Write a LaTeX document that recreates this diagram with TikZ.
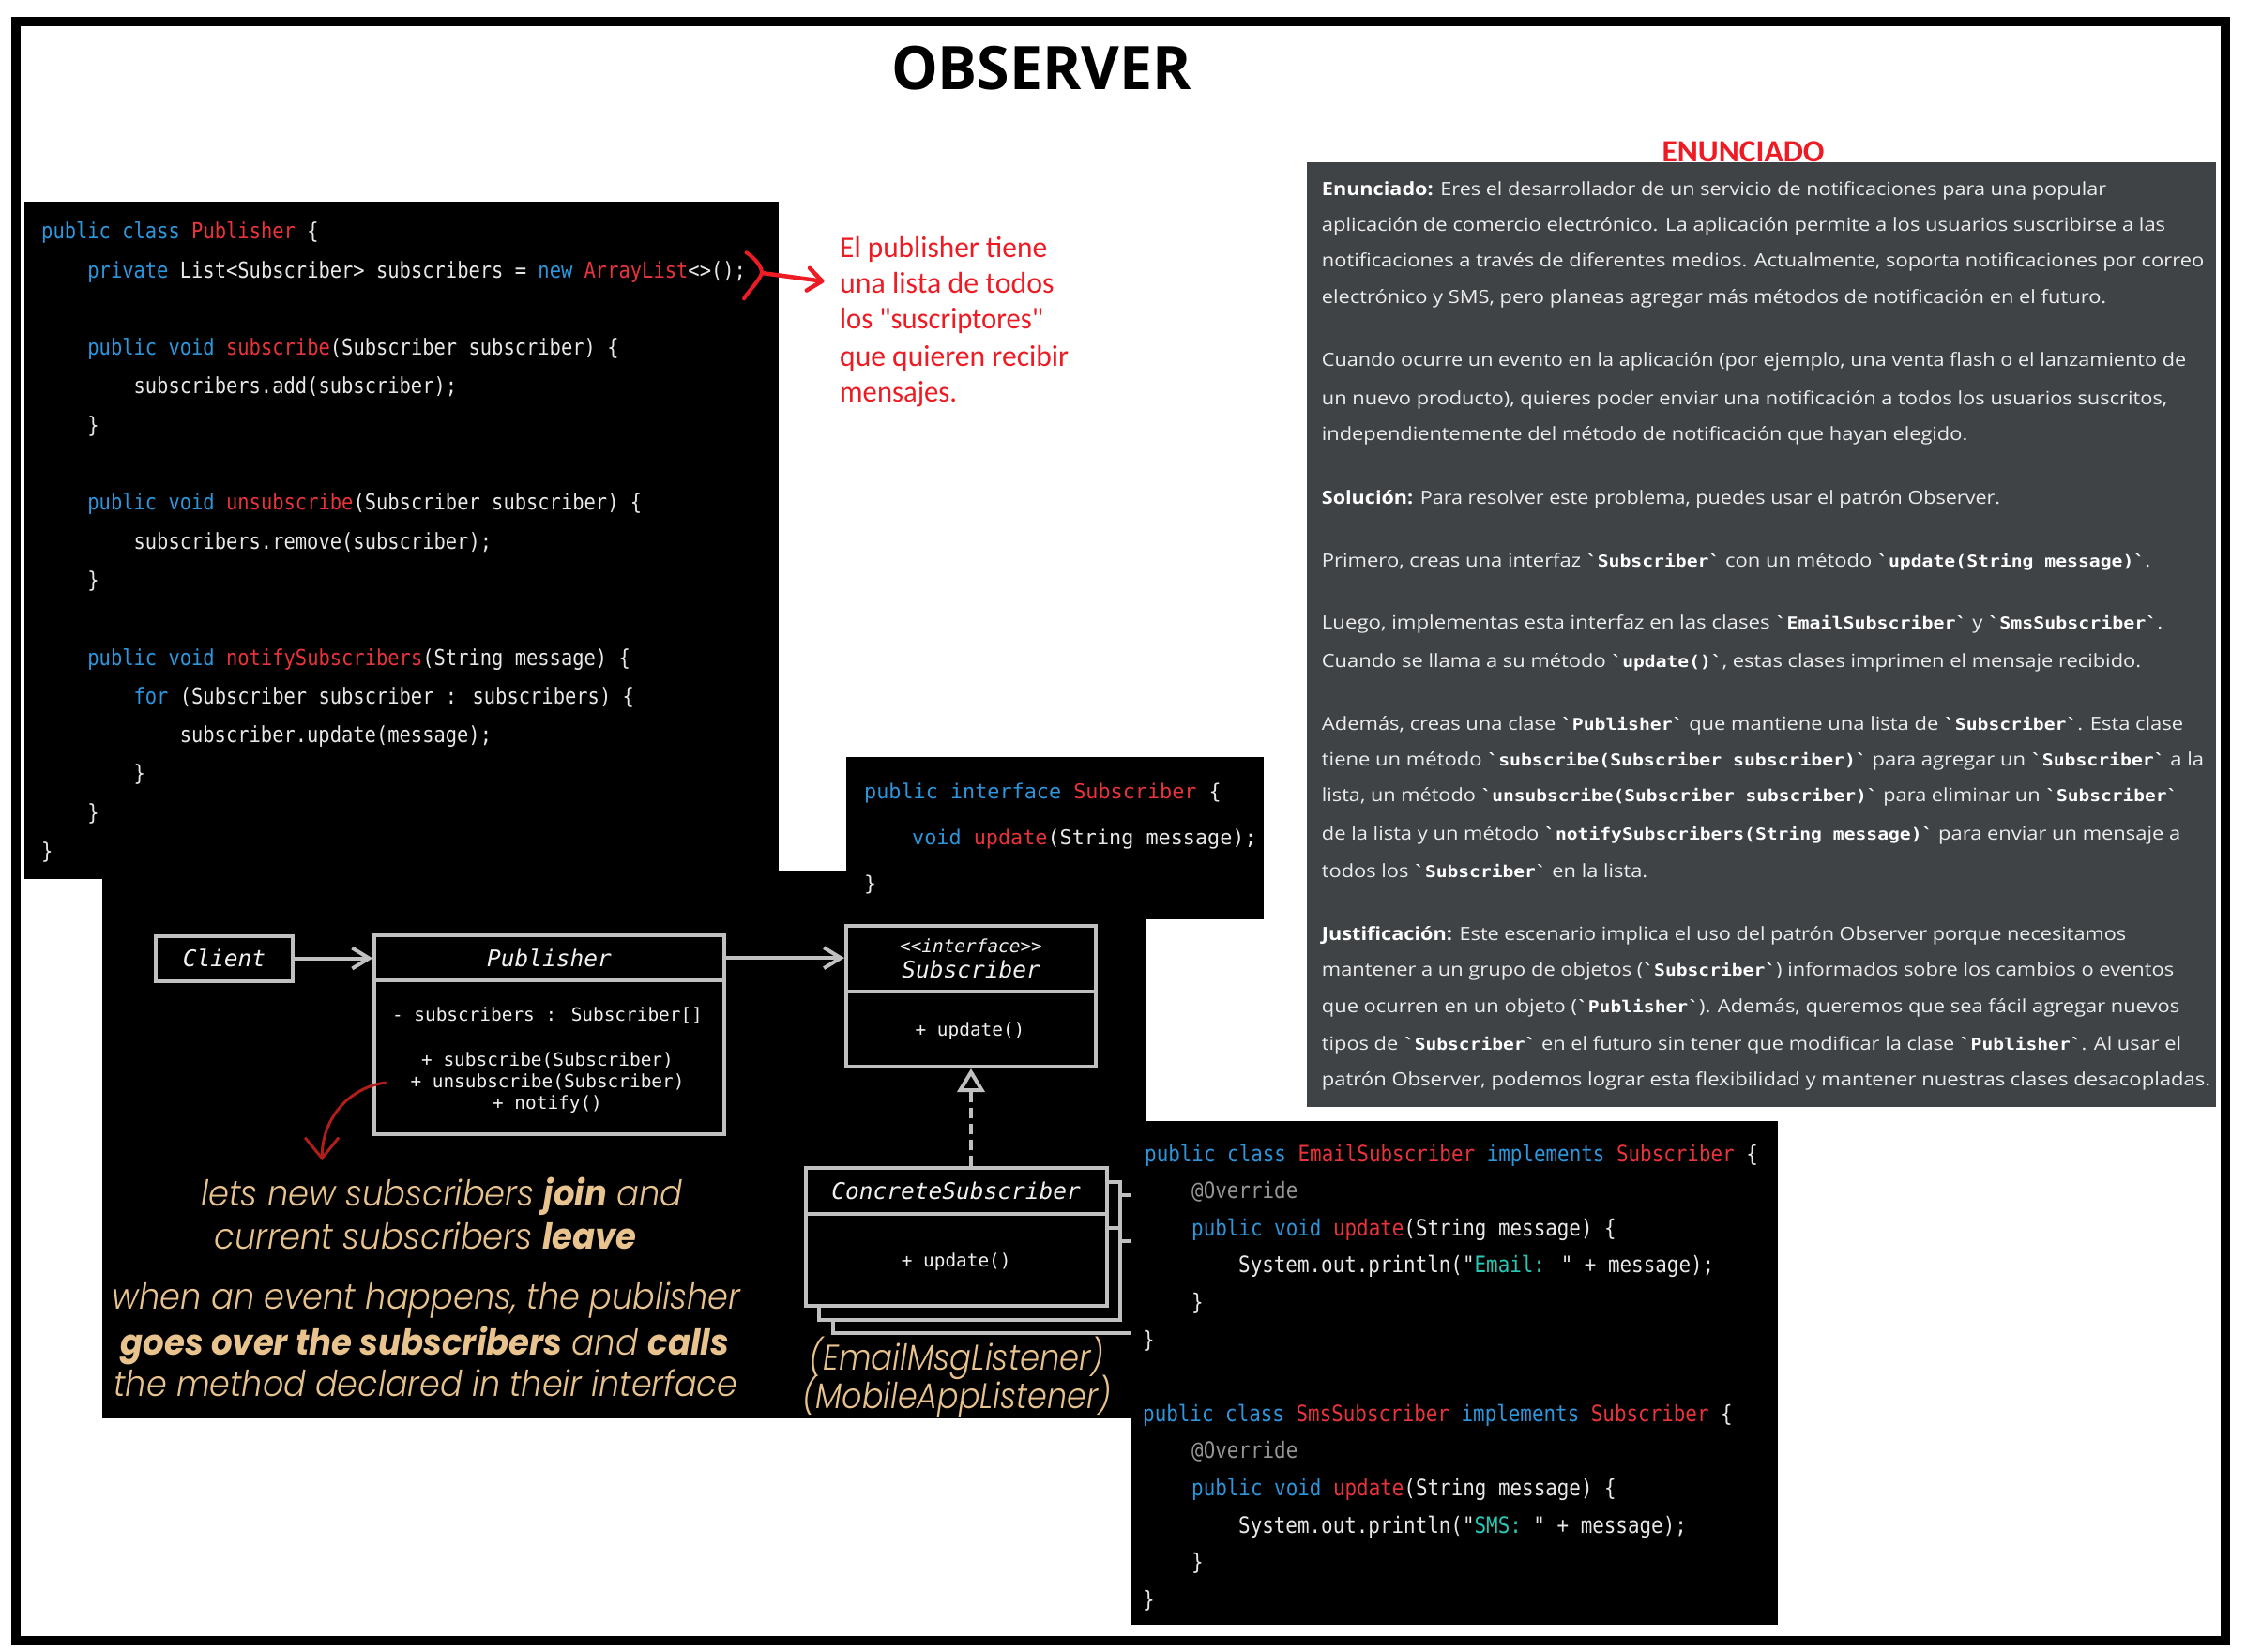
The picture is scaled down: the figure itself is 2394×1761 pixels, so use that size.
\documentclass[tikz,border=0pt]{standalone}
\usepackage{fontspec}
\usepackage{graphicx}
\usetikzlibrary{arrows.meta}
\newfontfamily\titlefont{Open Sans}[Ligatures=TeXOff]
\newfontfamily\carl{Carlito}[Ligatures=TeXOff]
\newfontfamily\notos{Open Sans}[Ligatures=TeXOff]
\newfontfamily\monoA{DejaVu Sans Mono}[FakeStretch=0.87,Ligatures=TeXOff]
\newfontfamily\monoB{DejaVu Sans Mono}[Ligatures=TeXOff]
\newfontfamily\pop{Poppins Light}[ItalicFont={Poppins Light Italic},BoldItalicFont={Poppins Bold Italic},Ligatures=TeXOff]
\definecolor{kwblue}{RGB}{45,150,220}
\definecolor{nmred}{RGB}{232,52,58}
\definecolor{codew}{RGB}{232,232,232}
\definecolor{strteal}{RGB}{40,200,180}
\definecolor{anngray}{RGB}{150,150,150}
\definecolor{umlgray}{RGB}{192,192,192}
\definecolor{umltext}{RGB}{240,240,240}
\definecolor{beige}{RGB}{233,195,142}
\definecolor{notered}{RGB}{237,28,36}
\definecolor{darkred}{RGB}{175,30,25}
\definecolor{panelgray}{RGB}{63,67,70}
\definecolor{paneltext}{RGB}{236,236,236}
\newcommand\jkw[1]{\textcolor{kwblue}{#1}}
\newcommand\jnm[1]{\textcolor{nmred}{#1}}
\newcommand\jst[1]{\textcolor{strteal}{#1}}
\newcommand\jan[1]{\textcolor{anngray}{#1}}
\newcommand\cc[1]{{\monoB\bfseries\fontsize{17.5}{20}\selectfont\textcolor{white}{`#1`}}}
\newcommand\lbl[1]{\textcolor{white}{\bfseries #1}}
\newcommand\gl[4]{\node[gtext] (#1) at (1408.7,#2) {\resizebox{#3pt}{\height}{#4}};}
\tikzset{
 codetext/.style={anchor=base west, inner sep=0pt, text=codew, font=\monoA\fontsize{23.5}{26}\selectfont},
 mailtext/.style={anchor=base west, inner sep=0pt, text=codew, font=\monoA\fontsize{24}{26}\selectfont},
 ifacetext/.style={anchor=base west, inner sep=0pt, text=codew, font=\monoB\fontsize{21.8}{26}\selectfont},
 gtext/.style={anchor=base west, inner sep=0pt, text=paneltext, font=\notos\fontsize{19.5}{23}\selectfont},
 umlbox/.style={draw=umlgray, line width=4pt, fill=black, inner sep=0pt, text=umltext, font=\monoB\itshape\fontsize{24.5}{27}\selectfont},
 umlmember/.style={anchor=base, inner sep=0pt, text=umltext, font=\monoB\fontsize{19.4}{23}\selectfont},
 umlline/.style={draw=umlgray, line width=4pt},
 beigetext/.style={anchor=base, inner sep=0pt, text=beige, font=\pop\itshape\fontsize{38}{44}\selectfont},
 notetext/.style={anchor=base west, inner sep=0pt, text=notered, font=\carl\fontsize{32}{38}\selectfont},
}
\begin{document}
\begin{tikzpicture}[x=1pt,y=-1pt]
\useasboundingbox (0,0) rectangle (2394,1761);
\fill[white] (0,0) rectangle (2394,1761);
\draw[line width=10pt] (17,23) rectangle (2372,1748.5);

% title
\node[anchor=base, inner sep=0pt, font=\titlefont\bfseries\fontsize{64}{70}\selectfont] (title) at (1110,95.7) {\resizebox{320pt}{\height}{OBSERVER}};

% black panels
\fill[black] (26,215) rectangle (830,937);
\fill[black] (108.5,928) rectangle (1222,1512);
\fill[black] (902,807) rectangle (1347,980);

% Publisher code
\node[codetext] (p0) at (44,254.7) {\jkw{public class} \jnm{Publisher} \{};
\node[codetext] (p1) at (93.2,296.0) {\jkw{private} List<Subscriber> subscribers = \jkw{new} \jnm{ArrayList}<>();};
\node[codetext] (p3) at (93.2,378.6) {\jkw{public void} \jnm{subscribe}(Subscriber subscriber) \{};
\node[codetext] (p4) at (142.4,419.9) {subscribers.add(subscriber);};
\node[codetext] (p5) at (93.2,461.2) {\}};
\node[codetext] (p7) at (93.2,543.8) {\jkw{public void} \jnm{unsubscribe}(Subscriber subscriber) \{};
\node[codetext] (p8) at (142.4,585.1) {subscribers.remove(subscriber);};
\node[codetext] (p9) at (93.2,626.4) {\}};
\node[codetext] (p11) at (93.2,709.0) {\jkw{public void} \jnm{notifySubscribers}(String message) \{};
\node[codetext] (p12) at (142.4,750.3) {\jkw{for} (Subscriber subscriber : subscribers) \{};
\node[codetext] (p13) at (191.6,791.6) {subscriber.update(message);};
\node[codetext] (p14) at (142.4,832.9) {\}};
\node[codetext] (p15) at (93.2,874.2) {\}};
\node[codetext] (p16) at (44,915.5) {\}};

% interface code
\node[ifacetext] (i0) at (921,851.7) {\jkw{public interface} \jnm{Subscriber} \{};
\node[ifacetext] (i1) at (972,900.5) {\jkw{void} \jnm{update}(String message);};
\node[ifacetext] (i2) at (921,949) {\}};

% UML diagram
\node[umlbox, minimum width=146pt, minimum height=48pt] (client) at (239,1021.5) {Client};
\node[umlbox, minimum width=372.5pt, minimum height=47.7pt] (pubH) at (585.45,1021.15) {Publisher};
\node[umlbox, minimum width=372.5pt, minimum height=164.3pt] (pubB) at (585.45,1127.15) {};
\node[umlmember] (pm1) at (583.5,1088) {- subscribers : Subscriber[]};
\node[umlmember] (pm2) at (583.5,1136) {+ subscribe(Subscriber)};
\node[umlmember] (pm3) at (583.5,1159.5) {+ unsubscribe(Subscriber)};
\node[umlmember] (pm4) at (583.5,1182.5) {+ notify()};

\node[umlbox, minimum width=266pt, minimum height=70.3pt, align=center] (subH) at (1035,1021.85) {{\fontsize{19.4}{22}\selectfont <<interface>>}\\Subscriber};
\node[umlbox, minimum width=266pt, minimum height=80pt] (subB) at (1035,1097) {};
\node[umlmember] (sm1) at (1034,1104.5) {+ update()};

\node[umlbox, minimum width=321pt, minimum height=49pt] (c3H) at (1048.2,1298.8) {};
\node[umlbox, minimum width=321pt, minimum height=97.7pt] (c3B) at (1048.2,1372.15) {};
\node[umlbox, minimum width=321pt, minimum height=49pt] (c2H) at (1033.7,1284.3) {};
\node[umlbox, minimum width=321pt, minimum height=97.7pt] (c2B) at (1033.7,1357.65) {};
\node[umlbox, minimum width=321pt, minimum height=49pt] (concH) at (1019.2,1269.8) {ConcreteSubscriber};
\node[umlbox, minimum width=321pt, minimum height=97.7pt] (concB) at (1019.2,1343.15) {};
\node[umlmember] (cm1) at (1019.2,1350.5) {+ update()};

\draw[umlline, -{Straight Barb[length=18pt,width=22pt]}] (client.east) -- (client.east -| pubH.west);
\draw[umlline, -{Straight Barb[length=18pt,width=22pt]}] (pubH.east) -- (pubH.east -| subH.west);
\draw[umlline, dash pattern=on 11pt off 6pt, -{Triangle[length=25pt,width=29pt,fill=black]}] (concH.north -| subB.south) -- (subB.south);

% red curved arrow
\coordinate (ra) at (411.7,1154);
\coordinate (rb) at (343.3,1237);
\draw[darkred, line width=3pt, -{Straight Barb[length=22pt,width=36pt]}] (ra) .. controls (375,1158) and (343,1190) .. (rb);

% beige texts
\node[beigetext] (t1) at (470.7,1285) {\resizebox{512.8pt}{\height}{lets new subscribers \textbf{join} and}};
\node[beigetext] (t2) at (453.6,1331.4) {\resizebox{450pt}{\height}{current subscribers \textbf{leave}}};
\node[beigetext] (t3) at (454.6,1395.7) {\resizebox{669.3pt}{\height}{when an event happens, the publisher}};
\node[beigetext] (t4) at (452.9,1444) {\resizebox{648.6pt}{\height}{\textbf{goes over the subscribers} and \textbf{calls}}};
\node[beigetext] (t5) at (453.6,1488.6) {\resizebox{664.3pt}{\height}{the method declared in their interface}};
\node[beigetext] (t6) at (1020,1460) {\resizebox{314.3pt}{\height}{(EmailMsgListener)}};
\node[beigetext] (t7) at (1020,1501) {\resizebox{328.6pt}{\height}{(MobileAppListener)}};

% Email / Sms code
\fill[black] (1205,1195) rectangle (1895,1732);
\node[mailtext] (e0) at (1220,1238) {\jkw{public class} \jnm{EmailSubscriber} \jkw{implements} \jnm{Subscriber} \{};
\node[mailtext] (e1) at (1270,1277.6) {\jan{@Override}};
\node[mailtext] (e2) at (1270,1317.2) {\jkw{public void} \jnm{update}(String message) \{};
\node[mailtext] (e3) at (1320,1356.8) {System.out.println("\jst{Email:} " + message);};
\node[mailtext] (e4) at (1270,1396.4) {\}};
\node[mailtext] (e5) at (1218,1436) {\}};
\node[mailtext] (s0) at (1218,1515.2) {\jkw{public class} \jnm{SmsSubscriber} \jkw{implements} \jnm{Subscriber} \{};
\node[mailtext] (s1) at (1270,1554.8) {\jan{@Override}};
\node[mailtext] (s2) at (1270,1594.4) {\jkw{public void} \jnm{update}(String message) \{};
\node[mailtext] (s3) at (1320,1634) {System.out.println("\jst{SMS:} " + message);};
\node[mailtext] (s4) at (1270,1673.6) {\}};
\node[mailtext] (s5) at (1218,1713.2) {\}};

% gray panel
\fill[panelgray] (1393,173) rectangle (2362,1180);
\node[anchor=base, inner sep=0pt, text=notered, font=\carl\bfseries\fontsize{33}{36}\selectfont] (enun) at (1858,172) {\resizebox{173pt}{\height}{ENUNCIADO}};
\gl{g1}{208}{836.3}{\lbl{Enunciado:} Eres el desarrollador de un servicio de notificaciones para una popular}
\gl{g2}{246.3}{899.3}{aplicación de comercio electrónico. La aplicación permite a los usuarios suscribirse a las}
\gl{g3}{284.7}{940.3}{notificaciones a través de diferentes medios. Actualmente, soporta notificaciones por correo}
\gl{g4}{323.7}{836.3}{electrónico y SMS, pero planeas agregar más métodos de notificación en el futuro.}
\gl{g5}{390.3}{921.3}{Cuando ocurre un evento en la aplicación (por ejemplo, una venta flash o el lanzamiento de}
\gl{g6}{431.3}{901.3}{un nuevo producto), quieres poder enviar una notificación a todos los usuarios suscritos,}
\gl{g7}{469.7}{688.3}{independientemente del método de notificación que hayan elegido.}
\gl{g8}{537}{723.3}{\lbl{Solución:} Para resolver este problema, puedes usar el patrón Observer.}
\gl{g9}{604.2}{883.3}{Primero, creas una interfaz \cc{Subscriber} con un método \cc{update(String message)}.}
\gl{g10}{670.4}{896.3}{Luego, implementas esta interfaz en las clases \cc{EmailSubscriber} y \cc{SmsSubscriber}.}
\gl{g11}{711.4}{873.3}{Cuando se llama a su método \cc{update()}, estas clases imprimen el mensaje recibido.}
\gl{g12}{778.4}{918.3}{Además, creas una clase \cc{Publisher} que mantiene una lista de \cc{Subscriber}. Esta clase}
\gl{g13}{816.6}{940.3}{tiene un método \cc{subscribe(Subscriber subscriber)} para agregar un \cc{Subscriber} a la}
\gl{g14}{854.9}{912.3}{lista, un método \cc{unsubscribe(Subscriber subscriber)} para eliminar un \cc{Subscriber}}
\gl{g15}{895}{915.3}{de la lista y un método \cc{notifySubscribers(String message)} para enviar un mensaje a}
\gl{g16}{935.3}{347.3}{todos los \cc{Subscriber} en la lista.}
\gl{g17}{1002.2}{857.3}{\lbl{Justificación:} Este escenario implica el uso del patrón Observer porque necesitamos}
\gl{g18}{1040.5}{908.3}{mantener a un grupo de objetos (\cc{Subscriber}) informados sobre los cambios o eventos}
\gl{g19}{1079.5}{914.3}{que ocurren en un objeto (\cc{Publisher}). Además, queremos que sea fácil agregar nuevos}
\gl{g20}{1119}{916.3}{tipos de \cc{Subscriber} en el futuro sin tener que modificar la clase \cc{Publisher}. Al usar el}
\gl{g21}{1157.2}{947.3}{patrón Observer, podemos lograr esta flexibilidad y mantener nuestras clases desacopladas.}

% red note
\node[notetext] (n1) at (895,274) {\resizebox{221pt}{\height}{El publisher tiene}};
\node[notetext] (n2) at (895,312.7) {\resizebox{228.4pt}{\height}{una lista de todos}};
\node[notetext] (n3) at (895,350.7) {\resizebox{217pt}{\height}{los "suscriptores"}};
\node[notetext] (n4) at (895,390) {\resizebox{244pt}{\height}{que quieren recibir}};
\node[notetext] (n5) at (895,428.3) {\resizebox{125pt}{\height}{mensajes.}};
\coordinate (b1) at (795.6,269.3);
\coordinate (b2) at (812,291);
\coordinate (b3) at (793,318.3);
\coordinate (na) at (878.5,300);
\draw[notered, line width=4pt, line cap=round] (b1) .. controls (806,276) and (812,285) .. (b2) .. controls (809,300) and (798,310) .. (b3);
\draw[notered, line width=4.5pt, line cap=round, -{Straight Barb[length=15pt,width=24pt,round]}] (b2) -- (na);
\end{tikzpicture}
\end{document}
